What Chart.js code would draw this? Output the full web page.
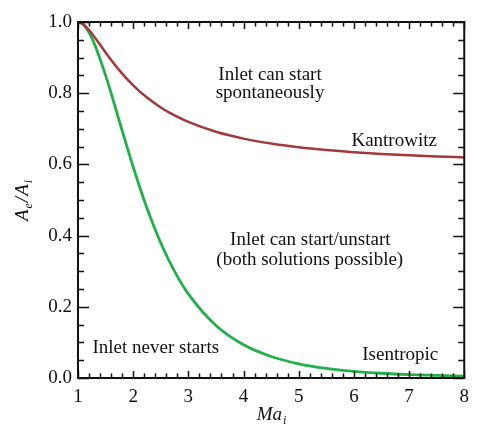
<!DOCTYPE html>
<html>
<head>
<meta charset="utf-8">
<script src="https://cdn.jsdelivr.net/npm/chart.js@4.4.1/dist/chart.umd.min.js"></script>
<style>
  html, body { margin: 0; padding: 0; background: #fff; }
  #wrap { width: 477px; height: 432px; }
</style>
</head>
<body>
<div id="wrap"><canvas id="grafico" width="477" height="432"></canvas></div>
<script>
// Mach number of the incoming flow
const machNumbers = [1, 1.1, 1.25, 1.5, 1.75, 2, 2.25, 2.5, 2.75, 3, 3.5, 4, 4.5, 5, 5.5, 6, 6.5, 7, 7.5, 8];
// Kantrowitz limit (self-starting contraction ratio)
const kantrowitz = [1, 0.9932, 0.9679, 0.9144, 0.8642, 0.8221, 0.7877, 0.7600, 0.7375, 0.7192, 0.6916, 0.6724, 0.6584, 0.6481, 0.6403, 0.6342, 0.6294, 0.6255, 0.6223, 0.6197];
// isentropic contraction limit
const isentropic = [1, 0.9921, 0.9553, 0.8502, 0.7212, 0.5926, 0.4770, 0.3793, 0.2996, 0.2362, 0.1473, 0.0933, 0.0604, 0.0400, 0.0271, 0.0188, 0.0133, 0.0096, 0.0071, 0.0053];

const xTicks = [1, 2, 3, 4, 5, 6, 7, 8];
const yTicks = [0, 0.2, 0.4, 0.6, 0.8, 1.0];

const serif = '"Liberation Serif", "Times New Roman", serif';

// textos dentro del area del grafico: [texto, Ma, A/A]
const regionLabels = [
  ['Inlet can start', 4.48, 0.837],
  ['spontaneously', 4.48, 0.787],
  ['Kantrowitz', 6.73, 0.652],
  ['Inlet can start/unstart', 5.21, 0.374],
  ['(both solutions possible)', 5.2, 0.317],
  ['Isentropic', 6.84, 0.051],
  ['Inlet never starts', 2.41, 0.07]
];

const toPoints = (ys) => machNumbers.map((m, i) => ({ x: m, y: ys[i] }));

// marco, marcas hacia dentro, textos y titulos de ejes
const marcoPlugin = {
  id: 'marco',
  afterDraw(chart) {
    const { ctx, chartArea: a, scales: { x, y } } = chart;
    ctx.save();
    ctx.strokeStyle = '#111';
    ctx.lineWidth = 1.5;

    // minor + major ticks on all four sides
    ctx.beginPath();
    for (let k = 0; k <= 35; k++) {
      const v = 1 + k * 0.2;
      const px = Math.round(x.getPixelForValue(v)) + 0.5;
      const len = k % 5 === 0 ? 7 : 4.5;
      ctx.moveTo(px, a.bottom); ctx.lineTo(px, a.bottom - len);
      ctx.moveTo(px, a.top); ctx.lineTo(px, a.top + len);
    }
    for (let k = 0; k <= 20; k++) {
      const v = k * 0.05;
      const py = Math.round(y.getPixelForValue(v)) + 0.5;
      const len = k % 4 === 0 ? 11 : 6;
      ctx.moveTo(a.left, py); ctx.lineTo(a.left + len, py);
      ctx.moveTo(a.right, py); ctx.lineTo(a.right - len, py);
    }
    ctx.stroke();

    ctx.lineWidth = 2;
    ctx.strokeRect(a.left, a.top, a.right - a.left, a.bottom - a.top);

    // region texts
    ctx.fillStyle = '#111';
    ctx.font = '19px ' + serif;
    ctx.textAlign = 'center';
    ctx.textBaseline = 'alphabetic';
    regionLabels.forEach(([t, m, v]) => {
      ctx.fillText(t, x.getPixelForValue(m), y.getPixelForValue(v));
    });

    // x title: Ma_i
    const big = 'italic 19px ' + serif;
    const small = 'italic 12px ' + serif;
    ctx.textAlign = 'left';
    ctx.font = big;
    const wMa = ctx.measureText('Ma').width;
    ctx.font = small;
    const wI = ctx.measureText('i').width;
    let sx = (a.left + a.right) / 2 - (wMa + wI) / 2;
    ctx.font = big;
    ctx.fillText('Ma', sx, 420);
    ctx.font = small;
    ctx.fillText('i', sx + wMa + 1, 424);

    // y title: A_e/A_i rotated
    ctx.translate(28, (a.top + a.bottom) / 2);
    ctx.rotate(-Math.PI / 2);
    const parts = [['A', big, 0], ['e', small, 4], ['/', big, 0], ['A', big, 0], ['i', small, 4]];
    let total = 0;
    parts.forEach(([t, f]) => { ctx.font = f; total += ctx.measureText(t).width + 1; });
    let cx = -total / 2;
    parts.forEach(([t, f, dy]) => {
      ctx.font = f;
      ctx.fillText(t, cx, dy);
      cx += ctx.measureText(t).width + 1;
    });
    ctx.restore();
  }
};

new Chart(document.getElementById('grafico'), {
  type: 'line',
  data: {
    datasets: [
      {
        label: 'Kantrowitz',
        data: toPoints(kantrowitz),
        borderColor: '#a3393b',
        borderWidth: 2.5,
        pointRadius: 0,
        cubicInterpolationMode: 'monotone',
        fill: false
      },
      {
        label: 'Isentropic',
        data: toPoints(isentropic),
        borderColor: '#22b04b',
        borderWidth: 2.8,
        pointRadius: 0,
        cubicInterpolationMode: 'monotone',
        fill: false
      }
    ]
  },
  options: {
    responsive: false,
    animation: false,
    devicePixelRatio: 1,
    layout: { padding: { top: 22, right: 7, left: 0, bottom: 0 } },
    plugins: { legend: { display: false }, tooltip: { enabled: false } },
    scales: {
      x: {
        type: 'linear',
        min: 1,
        max: 8,
        afterBuildTicks: (s) => { s.ticks = xTicks.map(v => ({ value: v })); },
        afterFit: (s) => { s.height = 54; },
        grid: { display: false, drawTicks: false },
        border: { display: false },
        ticks: { padding: 8, color: '#111', font: { family: serif, size: 19 }, callback: (v) => String(v) }
      },
      y: {
        type: 'linear',
        min: 0,
        max: 1,
        afterBuildTicks: (s) => { s.ticks = yTicks.map(v => ({ value: v })); },
        afterFit: (s) => { s.width = 78; },
        grid: { display: false, drawTicks: false },
        border: { display: false },
        ticks: { padding: 6, color: '#111', font: { family: serif, size: 19 }, callback: (v) => Number(v).toFixed(1) }
      }
    }
  },
  plugins: [marcoPlugin]
});
</script>
</body>
</html>
